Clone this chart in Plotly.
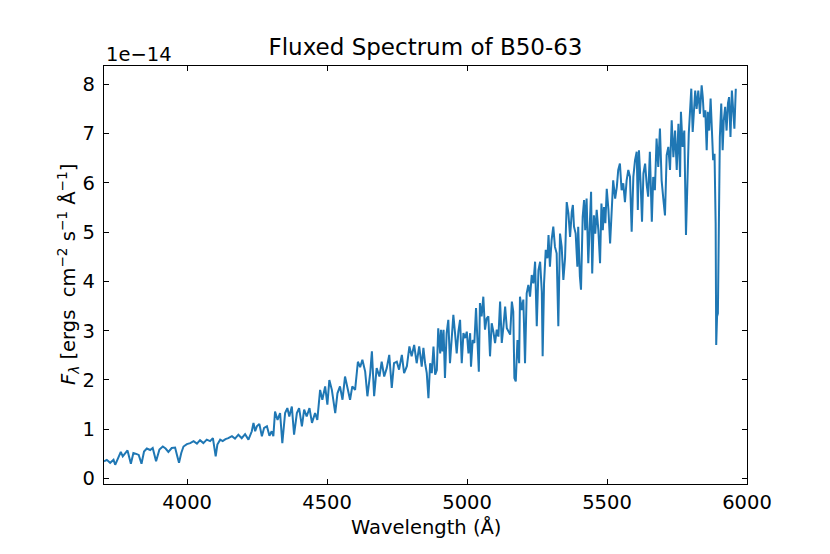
import plotly.graph_objects as go

# spectrum of B50-63, flux in units of 1e-14 ergs cm^-2 s^-1 A^-1
wavelength = [
    3703, 3713, 3725, 3737, 3743, 3755, 3763, 3770, 3779, 3787, 3799, 3808, 3818, 3827, 3837, 3846,
    3856, 3868, 3877, 3889, 3901, 3913, 3923, 3933, 3945, 3957, 3965, 3971, 3979, 3987, 3999, 4011,
    4023, 4035, 4046, 4058, 4070, 4082, 4092, 4098, 4102, 4108, 4118, 4127, 4137, 4147, 4160, 4171,
    4183, 4195, 4207, 4219, 4231, 4237, 4243, 4249, 4258, 4267, 4275, 4285, 4294, 4302, 4308, 4314,
    4323, 4332, 4340, 4350, 4358, 4365, 4374, 4382, 4392, 4400, 4410, 4418, 4427, 4437, 4446, 4457,
    4465, 4475, 4483, 4493, 4501, 4508, 4517, 4529, 4537, 4546, 4555, 4564, 4573, 4582, 4590, 4600,
    4610, 4618, 4626, 4636, 4644, 4654, 4660, 4668, 4677, 4687, 4695, 4704, 4713, 4722, 4731, 4739,
    4749, 4757, 4767, 4775, 4785, 4794, 4802, 4811, 4820, 4829, 4838, 4844, 4850, 4856, 4862, 4868,
    4874, 4880, 4886, 4892, 4897, 4904, 4907, 4912, 4916, 4921, 4927, 4933, 4939, 4945, 4951, 4957,
    4963, 4969, 4975, 4981, 4987, 4993, 4999, 5005, 5011, 5014, 5020, 5026, 5032, 5037, 5042, 5046,
    5052, 5058, 5064, 5070, 5076, 5082, 5088, 5094, 5100, 5106, 5112, 5118, 5124, 5130, 5136, 5142,
    5148, 5154, 5160, 5165, 5169, 5174, 5180, 5186, 5189, 5195, 5201, 5207, 5213, 5219, 5225, 5231,
    5237, 5243, 5249, 5255, 5261, 5267, 5270, 5275, 5281, 5287, 5291, 5296, 5302, 5308, 5314, 5320,
    5326, 5332, 5338, 5344, 5350, 5356, 5362, 5368, 5374, 5378, 5382, 5388, 5394, 5397, 5403, 5407,
    5413, 5418, 5422, 5427, 5433, 5439, 5443, 5447, 5453, 5458, 5463, 5469, 5475, 5480, 5485, 5489,
    5494, 5499, 5505, 5511, 5517, 5522, 5529, 5535, 5540, 5546, 5552, 5558, 5564, 5570, 5576, 5582,
    5588, 5594, 5600, 5606, 5610, 5614, 5620, 5625, 5630, 5636, 5642, 5647, 5653, 5660, 5665, 5671,
    5677, 5683, 5689, 5695, 5701, 5707, 5713, 5719, 5725, 5731, 5737, 5743, 5749, 5755, 5761, 5764,
    5770, 5776, 5782, 5787, 5792, 5796, 5801, 5806, 5811, 5815, 5820, 5826, 5832, 5838, 5842, 5846,
    5851, 5856, 5860, 5865, 5870, 5875, 5879, 5884, 5888, 5890, 5893, 5896, 5900, 5903, 5908, 5913,
    5917, 5922, 5927, 5932, 5936, 5941, 5946, 5951, 5955, 5960,
]
flux = [
    0.35, 0.38, 0.32, 0.38, 0.28, 0.45, 0.54, 0.45, 0.52, 0.57, 0.30, 0.52, 0.50, 0.48, 0.30, 0.55,
    0.61, 0.58, 0.62, 0.35, 0.59, 0.65, 0.61, 0.54, 0.62, 0.63, 0.45, 0.32, 0.52, 0.65, 0.70, 0.72,
    0.76, 0.71, 0.78, 0.72, 0.79, 0.76, 0.82, 0.62, 0.45, 0.69, 0.79, 0.76, 0.80, 0.82, 0.86, 0.81,
    0.89, 0.82, 0.90, 0.79, 0.96, 1.13, 0.96, 1.06, 1.11, 0.86, 1.03, 1.06, 0.87, 0.96, 0.86, 1.36,
    1.19, 1.33, 0.72, 1.33, 1.43, 1.26, 1.46, 0.89, 1.33, 1.43, 1.06, 1.40, 1.26, 1.43, 1.13, 1.33,
    1.19, 1.80, 1.60, 1.87, 1.50, 2.00, 1.80, 1.33, 1.73, 1.87, 1.60, 2.07, 1.84, 1.60, 1.87, 1.80,
    2.37, 2.26, 2.41, 2.17, 1.67, 2.14, 2.58, 1.67, 2.24, 2.07, 2.37, 2.07, 2.24, 2.51, 1.84, 2.34,
    2.37, 2.21, 2.51, 2.14, 2.28, 2.68, 2.48, 2.71, 2.34, 2.68, 2.27, 2.65, 2.34, 2.14, 1.63, 2.34,
    2.14, 2.68, 2.11, 2.20, 3.05, 2.54, 3.02, 2.58, 3.02, 2.04, 2.95, 3.22, 2.34, 2.88, 3.32, 2.95,
    2.54, 2.98, 3.22, 2.34, 2.95, 2.85, 2.98, 2.54, 2.95, 2.27, 2.81, 2.75, 3.46, 2.81, 2.17, 3.56,
    3.29, 3.69, 3.02, 3.25, 3.29, 2.48, 3.15, 2.98, 2.75, 3.02, 2.88, 3.59, 2.75, 3.09, 3.49, 3.05,
    2.98, 2.92, 3.59, 3.39, 2.04, 1.97, 2.81, 2.34, 3.69, 3.42, 3.63, 2.34, 3.76, 3.93, 3.69, 4.13,
    3.96, 4.40, 3.09, 4.23, 4.40, 3.79, 2.48, 3.96, 4.64, 4.47, 4.94, 4.30, 4.84, 5.11, 4.70, 4.57,
    3.09, 4.97, 4.70, 4.03, 4.47, 5.61, 5.38, 4.90, 5.41, 5.55, 5.11, 4.97, 4.30, 5.11, 4.10, 3.83,
    5.31, 5.65, 5.04, 5.68, 4.37, 5.38, 5.82, 4.16, 5.34, 4.97, 5.45, 5.04, 4.37, 5.58, 5.04, 5.51,
    5.18, 5.88, 5.45, 4.77, 5.58, 6.05, 5.68, 5.92, 6.26, 6.39, 5.85, 5.99, 5.61, 6.05, 6.26, 6.12,
    5.01, 6.12, 6.46, 6.63, 5.45, 6.66, 5.99, 5.21, 6.19, 6.39, 5.95, 5.72, 6.63, 5.21, 6.12, 5.85,
    6.90, 6.32, 7.10, 6.05, 5.68, 5.34, 6.56, 6.73, 6.26, 7.27, 6.52, 7.06, 6.26, 7.20, 6.12, 7.44,
    6.73, 7.06, 4.94, 6.26, 7.00, 7.40, 7.91, 7.03, 7.40, 7.87, 7.50, 7.87, 7.40, 7.98, 7.74, 7.33,
    7.47, 6.66, 7.44, 7.06, 7.71, 7.06, 6.46, 6.59, 5.18, 2.71, 3.29, 3.35, 5.92, 6.93, 7.61, 6.66,
    7.27, 7.54, 7.06, 7.61, 7.74, 6.93, 7.87, 7.40, 7.10, 7.91,
]

x_ticks = [4000, 4500, 5000, 5500, 6000]
y_ticks = [0, 1, 2, 3, 4, 5, 6, 7, 8]

font = "DejaVu Sans, Liberation Sans, sans-serif"

fig = go.Figure()
fig.add_trace(go.Scatter(
    x=wavelength, y=flux,
    mode="lines",
    line=dict(color="#1f77b4", width=2),
    showlegend=False,
))

axis_style = dict(
    showgrid=False, zeroline=False,
    showline=True, linecolor="black", linewidth=1.2, mirror="allticks",
    ticks="inside", ticklen=5, tickwidth=1.2, tickcolor="black",
    tickfont=dict(family=font, size=19.5, color="black"),
)

# the page body adds 8px on the left and top, so margins are pulled in by 8
fig.update_layout(
    width=830, height=554,
    margin=dict(l=96, r=91, t=58, b=78),
    paper_bgcolor="white", plot_bgcolor="white",
    font=dict(family=font, color="black"),
    title=dict(
        text="Fluxed Spectrum of B50-63",
        font=dict(family=font, size=23, color="black"),
        x=(425.5 - 8) / 830, xanchor="center",
        y=1 - 39 / 554, yref="container", yanchor="middle",
    ),
    xaxis=dict(range=[3703, 6000], tickvals=x_ticks, ticklabelstandoff=0, **axis_style),
    yaxis=dict(range=[-0.11, 8.37], tickvals=y_ticks, ticklabelstandoff=4, **axis_style),
    annotations=[
        dict(text="Wavelength (Å)", xref="paper", yref="paper",
             x=0.5, y=-(527 - 484) / 418, xanchor="center", yanchor="middle",
             showarrow=False, font=dict(family=font, size=19.5)),
        dict(text="<i>F</i><sub><i>λ</i></sub> [ergs  cm<sup>−2</sup> s<sup>−1</sup> Å<sup>−1</sup>]",
             xref="paper", yref="paper", x=(68 - 104) / 643, y=0.5,
             xanchor="center", yanchor="middle", textangle=-90,
             showarrow=False, font=dict(family=font, size=19.5)),
        dict(text="1e−14", xref="paper", yref="paper", x=0, y=1 + (66 - 55) / 418,
             xanchor="left", yanchor="middle",
             showarrow=False, font=dict(family=font, size=19.5)),
    ],
)

fig.write_html("out.html")
